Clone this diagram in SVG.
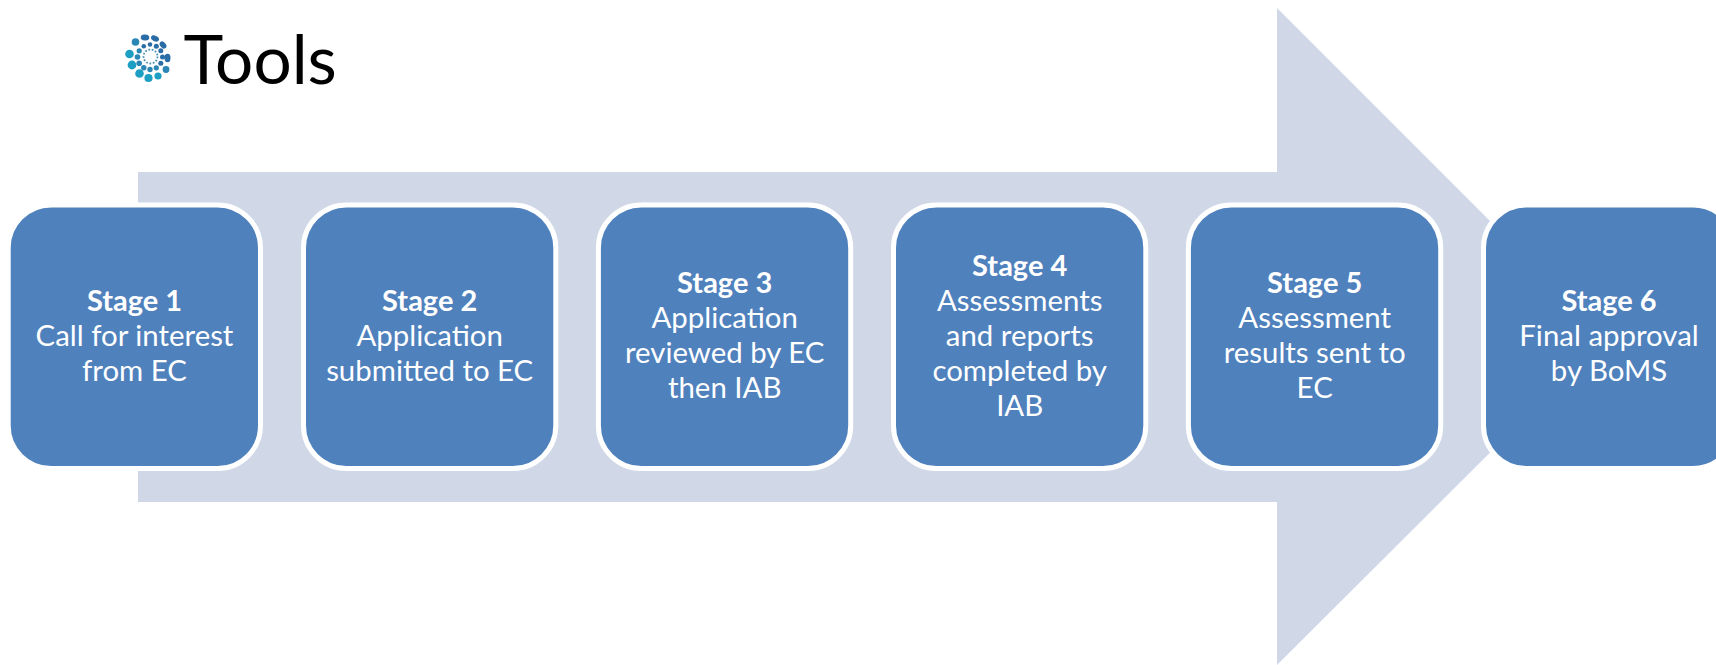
<svg xmlns="http://www.w3.org/2000/svg" width="1716" height="665" viewBox="0 0 1716 665">
<defs><filter id="soft" x="-10%" y="-10%" width="120%" height="120%"><feGaussianBlur stdDeviation="0.7"/></filter></defs>
<style>
.box{fill:#4f81bd;stroke:#fff;stroke-width:5}
text{font-family:Lato,"Open Sans",sans-serif;fill:#fff;font-size:29.4px;text-anchor:middle}
.b{font-weight:700;font-size:29px}
.title{fill:#000;font-size:67.5px;text-anchor:start}
.d{fill:#2b6ca6}.m{fill:#2a86b4}.t{fill:#1f9fc2}
</style>
<rect width="1716" height="665" fill="#fff"/>
<g id="connectors"><polygon id="arrow" points="138,172 1277,172 1277,8 1606,337 1277,665 1277,502 138,502" fill="#d0d8e8"/></g>
<g id="logo" filter="url(#soft)">
<circle cx="150.5" cy="56.5" r="7" fill="none" stroke="#4f93b5" stroke-width="1.8" stroke-dasharray="1.8 1.6"/>
<g class="d"><circle cx="162.5" cy="57" r="2.5"/><circle cx="160.8" cy="50.8" r="2.5"/><circle cx="156.3" cy="46.2" r="2.5"/><circle cx="150" cy="44.5" r="2.3"/><circle cx="143.8" cy="46.2" r="2.3"/><circle cx="160.8" cy="63.3" r="2.5"/></g>
<g class="m"><circle cx="156.3" cy="67.8" r="2.6"/><circle cx="150" cy="69.5" r="2.7"/><circle cx="143.8" cy="67.8" r="2.7"/><circle cx="139.2" cy="63.3" r="2.8"/><circle cx="137.5" cy="57" r="2.8"/><circle cx="139.2" cy="50.8" r="2.6"/></g>
<g class="d"><ellipse cx="167.5" cy="58" rx="3" ry="4.2"/><ellipse cx="163" cy="45" rx="2.8" ry="4" transform="rotate(-40 163 45)"/><ellipse cx="155" cy="38.5" rx="4.2" ry="2.7" transform="rotate(25 155 38.5)"/><ellipse cx="145" cy="37.5" rx="4.3" ry="3" transform="rotate(5 145 37.5)"/></g>
<g class="m"><circle cx="166" cy="69.5" r="3.4"/><circle cx="135.5" cy="42" r="3.8"/></g>
<g class="t"><circle cx="158" cy="76" r="3.6"/><circle cx="148.5" cy="78" r="4.1"/><circle cx="139.5" cy="73.5" r="4.3"/><circle cx="132" cy="65" r="4.4"/><circle cx="129.5" cy="54" r="4.3"/></g>
</g>
<text class="title" x="183.5" y="83.5">Tools</text>
<g id="stage1"><rect class="box" x="8.2" y="205" width="252.3" height="263.5" rx="43"/><text x="134.5" y="310.5" class="b">Stage 1</text><text x="134.5" y="345.5">Call for interest</text><text x="134.5" y="380.5">from EC</text></g>
<g id="stage2"><rect class="box" x="303.5" y="205" width="252.3" height="263.5" rx="43"/><text x="429.7" y="310.5" class="b">Stage 2</text><text x="429.7" y="345.5">Application</text><text x="429.7" y="380.5">submitted to EC</text></g>
<g id="stage3"><rect class="box" x="598.4" y="205" width="252.3" height="263.5" rx="43"/><text x="724.7" y="293" class="b">Stage 3</text><text x="724.7" y="328">Application</text><text x="724.7" y="363">reviewed by EC</text><text x="724.7" y="398">then IAB</text></g>
<g id="stage4"><rect class="box" x="893.5" y="205" width="252.3" height="263.5" rx="43"/><text x="1019.7" y="276" class="b">Stage 4</text><text x="1019.7" y="311">Assessments</text><text x="1019.7" y="346">and reports</text><text x="1019.7" y="381">completed by</text><text x="1019.7" y="416">IAB</text></g>
<g id="stage5"><rect class="box" x="1188.4" y="205" width="252.3" height="263.5" rx="43"/><text x="1314.7" y="293" class="b">Stage 5</text><text x="1314.7" y="328">Assessment</text><text x="1314.7" y="363">results sent to</text><text x="1314.7" y="398">EC</text></g>
<g id="stage6"><rect class="box" x="1483.5" y="205" width="252.3" height="263.5" rx="43"/><text x="1609" y="310.5" class="b">Stage 6</text><text x="1609" y="345.5">Final approval</text><text x="1609" y="380.5">by BoMS</text></g>
</svg>
